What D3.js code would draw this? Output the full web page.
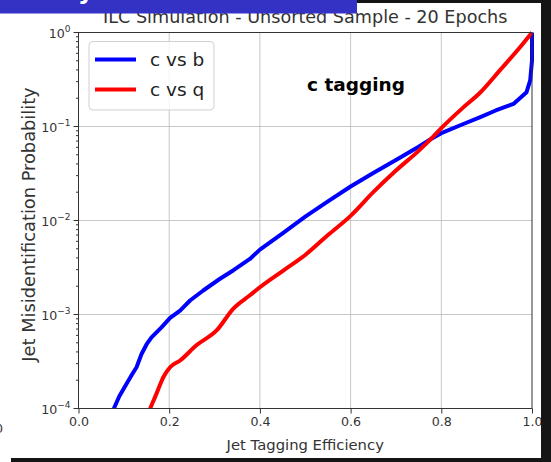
<!DOCTYPE html>
<html><head><meta charset="utf-8">
<script src="https://cdn.jsdelivr.net/npm/d3@7/dist/d3.min.js"></script>
<style>
html,body{margin:0;padding:0;background:#fff;}
svg{display:block;font-family:"DejaVu Sans",sans-serif;}
</style></head>
<body>
<svg id="chart" width="551" height="462"></svg>
<script>
const titleText = "ILC Simulation - Unsorted Sample - 20 Epochs";
const xLabel = "Jet Tagging Efficiency";
const yLabel = "Jet Misidentification Probability";
const annotation = "c tagging";
const seriesNames = ["c vs b", "c vs q"];
const seriesColors = ["#0000ff", "#ff0000"];
const xTicks = [0, 0.2, 0.4, 0.6, 0.8, 1.0];
const yTickExponents = [0, -1, -2, -3, -4];

const effB = [0.078, 0.09, 0.106, 0.118, 0.128, 0.139, 0.15, 0.161, 0.183, 0.202, 0.224, 0.246, 0.275, 0.312, 0.341, 0.378, 0.4, 0.45, 0.5, 0.55, 0.6, 0.65, 0.7, 0.75, 0.78, 0.8, 0.85, 0.886, 0.92, 0.959, 0.988, 0.996, 1.0, 1.0];
const probB = [1e-4, 1.35e-4, 1.83e-4, 2.3e-4, 2.75e-4, 3.8e-4, 4.8e-4, 5.7e-4, 7.3e-4, 9.2e-4, 1.1e-3, 1.41e-3, 1.8e-3, 2.4e-3, 2.94e-3, 3.9e-3, 4.9e-3, 7.3e-3, 1.1e-2, 1.6e-2, 2.3e-2, 3.2e-2, 4.4e-2, 6.1e-2, 7.5e-2, 8.5e-2, 1.07e-1, 1.26e-1, 1.48e-1, 1.74e-1, 2.32e-1, 3.1e-1, 5e-1, 1];

const effQ = [0.158, 0.165, 0.172, 0.18, 0.187, 0.202, 0.224, 0.26, 0.305, 0.341, 0.378, 0.4, 0.45, 0.5, 0.55, 0.6, 0.65, 0.7, 0.75, 0.78, 0.8, 0.85, 0.886, 0.93, 0.974, 1.0];
const probQ = [1e-4, 1.2e-4, 1.44e-4, 1.8e-4, 2.15e-4, 2.75e-4, 3.24e-4, 4.7e-4, 6.8e-4, 1.15e-3, 1.6e-3, 1.95e-3, 2.9e-3, 4.3e-3, 7e-3, 1.12e-2, 2e-2, 3.4e-2, 5.5e-2, 7.6e-2, 9.6e-2, 1.62e-1, 2.3e-1, 4e-1, 7e-1, 1];

const svg = d3.select("#chart");
const L = 78.5, R = 532, T = 32.5, B = 408.5;
const x = d3.scaleLinear().domain([0, 1]).range([L, R]);
const y = d3.scaleLog().domain([1e-4, 1]).range([B, T]);

// grid
const g = svg.append("g");
g.selectAll(".gx").data(xTicks.slice(1, -1)).enter().append("line")
  .attr("x1", d => x(d)).attr("x2", d => x(d)).attr("y1", T).attr("y2", B)
  .attr("stroke", "#b0b0b0").attr("stroke-opacity", 0.7).attr("stroke-width", 1);
g.selectAll(".gy").data(yTickExponents.slice(1, -1)).enter().append("line")
  .attr("x1", L).attr("x2", R).attr("y1", d => y(Math.pow(10, d))).attr("y2", d => y(Math.pow(10, d)))
  .attr("stroke", "#b0b0b0").attr("stroke-opacity", 0.7).attr("stroke-width", 1);

// clip
svg.append("clipPath").attr("id", "clip").append("rect")
  .attr("x", L).attr("y", T - 3).attr("width", R - L + 3).attr("height", B - T + 3);

const line = d3.line().x(d => x(d[0])).y(d => y(d[1])).curve(d3.curveMonotoneX);
const series = [d3.zip(effB, probB), d3.zip(effQ, probQ)];
svg.append("g").attr("clip-path", "url(#clip)").selectAll("path").data(series).enter().append("path")
  .attr("d", (d, i) => i === 0 ? d3.line().x(p => x(p[0])).y(p => y(p[1]))(d) : line(d))
  .attr("fill", "none")
  .attr("stroke", (d, i) => seriesColors[i]).attr("stroke-width", 4)
  .attr("stroke-linejoin", "round").attr("stroke-linecap", "butt");

// axes
const xAxis = d3.axisBottom(x).tickValues(xTicks).tickFormat(d3.format(".1f")).tickSize(5).tickPadding(4);
const xg = svg.append("g").attr("transform", `translate(0,${B})`).call(xAxis);
xg.select(".domain").remove();
xg.selectAll("text").attr("font-size", 12.6).attr("fill", "#333").attr("font-family", "DejaVu Sans");
xg.selectAll("line").attr("stroke", "#333");

const minor = [];
for (let e = -4; e < 0; e++) for (let k = 2; k <= 9; k++) minor.push(k * Math.pow(10, e));
const yg = svg.append("g").attr("transform", `translate(${L},0)`);
yg.selectAll(".mn").data(minor).enter().append("line")
  .attr("x1", -2.5).attr("x2", 0).attr("y1", d => y(d)).attr("y2", d => y(d)).attr("stroke", "#333");
yg.selectAll(".mj").data(yTickExponents).enter().append("line")
  .attr("x1", -5).attr("x2", 0).attr("y1", d => y(Math.pow(10, d))).attr("y2", d => y(Math.pow(10, d))).attr("stroke", "#333");
const yt = yg.selectAll(".lab").data(yTickExponents).enter().append("text")
  .attr("x", -8).attr("y", d => y(Math.pow(10, d)) + 5)
  .attr("text-anchor", "end").attr("font-size", 12.6).attr("fill", "#333");
yt.append("tspan").text("10");
yt.append("tspan").attr("dy", -6).attr("font-size", 9).text(d => d === 0 ? "0" : "\u2212" + String(-d));

// spines
svg.append("rect").attr("x", L).attr("y", T).attr("width", R - L).attr("height", B - T)
  .attr("fill", "none").attr("stroke", "#333").attr("stroke-width", 1);

// labels
svg.append("text").attr("x", (L + R) / 2).attr("y", 23).attr("text-anchor", "middle")
  .attr("font-size", 17.6).attr("fill", "#333").text(titleText);
svg.append("text").attr("x", (L + R) / 2).attr("y", 450).attr("text-anchor", "middle")
  .attr("font-size", 14.8).attr("fill", "#333").text(xLabel);
svg.append("text").attr("transform", `translate(35,${(T + B) / 2 + 4}) rotate(-90)`).attr("text-anchor", "middle")
  .attr("font-size", 17.8).attr("fill", "#333").text(yLabel);
svg.append("text").attr("x", 356).attr("y", 91).attr("text-anchor", "middle")
  .attr("font-size", 18.5).attr("font-weight", "bold").attr("fill", "#000").text(annotation);

// legend
const lg = svg.append("g");
lg.append("rect").attr("x", 89).attr("y", 41.5).attr("width", 125).attr("height", 68.5).attr("rx", 4)
  .attr("fill", "#fff").attr("fill-opacity", 0.8).attr("stroke", "#d0d0d0");
seriesNames.forEach((n, i) => {
  const yy = 59.5 + i * 30;
  lg.append("line").attr("x1", 95).attr("x2", 136).attr("y1", yy).attr("y2", yy)
    .attr("stroke", seriesColors[i]).attr("stroke-width", 4);
  lg.append("text").attr("x", 150).attr("y", yy + 6.5).attr("font-size", 18.5).attr("fill", "#222").text(n);
});

// screenshot frame artefacts
svg.append("rect").attr("x", 357).attr("y", 0).attr("width", 194).attr("height", 3).attr("fill", "#151515");
svg.append("rect").attr("x", 541).attr("y", 0).attr("width", 10).attr("height", 462).attr("fill", "#151515");
svg.append("rect").attr("x", 11).attr("y", 458).attr("width", 540).attr("height", 4).attr("fill", "#151515");
svg.append("rect").attr("x", 0).attr("y", 0).attr("width", 357).attr("height", 13.5).attr("fill", "#3432c4");
svg.append("text").attr("x", 78).attr("y", -1).attr("font-size", 24).attr("font-weight", "bold").attr("fill", "#fff").text("y");
svg.append("text").attr("x", -5).attr("y", 433).attr("font-size", 12.6).attr("fill", "#333").text("0");
</script>
</body></html>
